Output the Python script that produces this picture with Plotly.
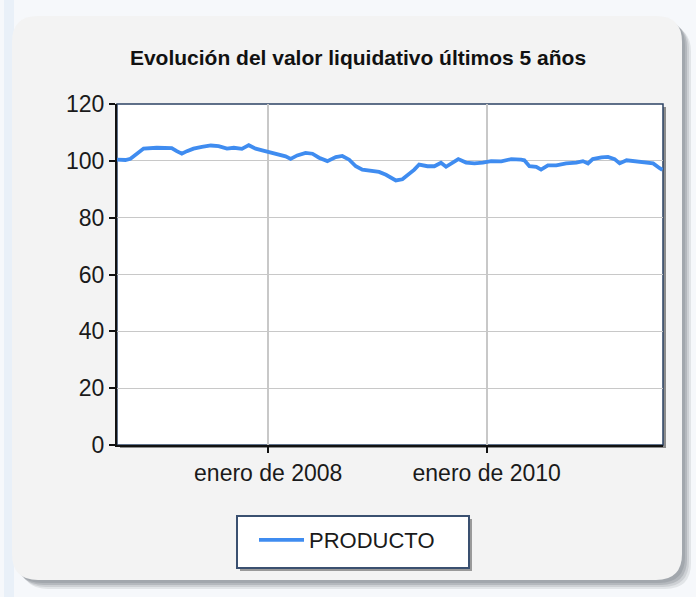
import plotly.graph_objects as go

# ---- data ----
dates = [
    "2006-08-13", "2006-09-10", "2006-09-27", "2006-10-19", "2006-11-10", "2006-12-24",
    "2007-02-12", "2007-03-01", "2007-03-18", "2007-04-04", "2007-04-26", "2007-05-24",
    "2007-06-23", "2007-07-19", "2007-08-16", "2007-09-08", "2007-10-05", "2007-10-28",
    "2007-11-20", "2007-12-12", "2008-01-03", "2008-02-06", "2008-02-28", "2008-03-16",
    "2008-04-07", "2008-05-05", "2008-05-28", "2008-06-19", "2008-07-17", "2008-08-14",
    "2008-09-05", "2008-09-28", "2008-10-20", "2008-11-11", "2008-12-09", "2009-01-06",
    "2009-01-29", "2009-02-14", "2009-03-03", "2009-03-25", "2009-04-11", "2009-05-04",
    "2009-05-20", "2009-06-17", "2009-07-10", "2009-08-01", "2009-08-18", "2009-09-04",
    "2009-09-28", "2009-10-24", "2009-11-21", "2009-12-19", "2010-01-16", "2010-02-19",
    "2010-03-24", "2010-04-26", "2010-05-07", "2010-05-24", "2010-06-16", "2010-07-02",
    "2010-07-25", "2010-08-22", "2010-09-24", "2010-10-28", "2010-11-19", "2010-12-06",
    "2010-12-22", "2011-01-20", "2011-02-11", "2011-03-05", "2011-03-22", "2011-04-14",
    "2011-05-17", "2011-06-20", "2011-07-12", "2011-08-03", "2011-08-12",
]
producto = [
    100.4, 100.3, 100.7, 102.7, 104.3, 104.6,
    104.5, 103.4, 102.5, 103.4, 104.3, 104.9,
    105.4, 105.2, 104.3, 104.6, 104.2, 105.5,
    104.3, 103.7, 103.1, 102.2, 101.6, 100.7,
    101.9, 102.8, 102.5, 101.1, 99.9, 101.3,
    101.7, 100.4, 98.1, 96.9, 96.4, 96.1,
    95.1, 94.3, 93.1, 93.5, 94.9, 96.9,
    98.7, 98.1, 98.1, 99.3, 97.9, 99.1,
    100.6, 99.4, 99.1, 99.4, 99.9, 99.8,
    100.6, 100.4, 100.2, 98.1, 97.9, 96.9,
    98.4, 98.4, 99.1, 99.4, 99.9, 99.1,
    100.6, 101.2, 101.4, 100.6, 99.1, 100.2,
    99.9, 99.6, 99.1, 97.4, 96.8,
]
x_range = ["2006-08-13", "2011-08-14"]
x_tickvals = ["2008-01-01", "2010-01-01"]
x_ticktext = ["enero de 2008", "enero de 2010"]
y_ticks = [0, 20, 40, 60, 80, 100, 120]
title_text = "Evolución del valor liquidativo últimos 5 años"
series_name = "PRODUCTO"

# ---- layout geometry (pixels) ----
W, H = 696, 597
L, R, T, B = 117, 663, 104, 445
pw, ph = R - L, B - T


def fx(px):
    return (px - L) / pw


def fy(py):
    return (B - py) / ph


def rrect(x0, y0, x1, y1, r):
    """rounded rectangle path in paper coords from pixel box"""
    def P(px, py):
        return f"{fx(px):.5f},{fy(py):.5f}"
    s = f"M {P(x0 + r, y0)} L {P(x1 - r, y0)} Q {P(x1, y0)} {P(x1, y0 + r)} "
    s += f"L {P(x1, y1 - r)} Q {P(x1, y1)} {P(x1 - r, y1)} "
    s += f"L {P(x0 + r, y1)} Q {P(x0, y1)} {P(x0, y1 - r)} "
    s += f"L {P(x0, y0 + r)} Q {P(x0, y0)} {P(x0 + r, y0)} Z"
    return s


shapes = []
# faint bluish outer strip on left
shapes.append(dict(type="rect", xref="paper", yref="paper", layer="below",
                   x0=fx(4), x1=fx(14), y0=fy(597), y1=fy(0),
                   fillcolor="#e9f0f8", line=dict(width=0)))
# panel shadow layers
for i, col in enumerate(["#e2e5e8", "#cdd0d4", "#b4b8bd", "#a2a7ad"]):
    off = 9 - i * 2
    shapes.append(dict(type="path", xref="paper", yref="paper", layer="below",
                       path=rrect(13 + off, 17 + off, 682 + off, 580 + off, 26),
                       fillcolor=col, line=dict(width=0)))
# panel
shapes.append(dict(type="path", xref="paper", yref="paper", layer="below",
                   path=rrect(12, 16, 682, 580, 26),
                   fillcolor="#f3f3f3", line=dict(width=0)))
# plot area shadow
shapes.append(dict(type="rect", xref="paper", yref="paper", layer="below",
                   x0=fx(L + 3), x1=fx(R + 3), y0=fy(B + 3), y1=fy(T + 3),
                   fillcolor="#8c8c8c", line=dict(width=0)))
# plot area
shapes.append(dict(type="rect", xref="paper", yref="paper", layer="below",
                   x0=0, x1=1, y0=0, y1=1,
                   fillcolor="#ffffff", line=dict(color="#2c4364", width=1.5)))
# legend shadow + box
shapes.append(dict(type="rect", xref="paper", yref="paper", layer="below",
                   x0=fx(240), x1=fx(472), y0=fy(571), y1=fy(519),
                   fillcolor="#9a9a9a", line=dict(width=0)))
shapes.append(dict(type="rect", xref="paper", yref="paper", layer="below",
                   x0=fx(237), x1=fx(469), y0=fy(568), y1=fy(516),
                   fillcolor="#ffffff", line=dict(color="#3a5070", width=2)))

font_family = "Liberation Sans, Arial, sans-serif"

fig = go.Figure()
fig.add_trace(go.Scatter(
    x=dates, y=producto, mode="lines", name=series_name,
    line=dict(color="#3f8cf0", width=3.8),
))

fig.update_layout(
    width=W, height=H,
    margin=dict(l=L, r=W - R, t=T, b=H - B, pad=0),
    paper_bgcolor="#f6f8fb",
    plot_bgcolor="rgba(0,0,0,0)",
    font=dict(family=font_family, color="#1a1a1a", size=23),
    title=dict(text=f"<b>{title_text}</b>", xref="paper", x=fx(358), xanchor="center",
               yref="container", y=1 - 58 / H, yanchor="middle",
               font=dict(family=font_family, size=21, color="#111111")),
    shapes=shapes,
    showlegend=True,
    legend=dict(x=fx(254), y=fy(519), xanchor="left", yanchor="top",
                orientation="h", itemwidth=45,
                bgcolor="rgba(0,0,0,0)", borderwidth=0,
                font=dict(family=font_family, size=22, color="#1a1a1a")),
    xaxis=dict(type="date", range=x_range, tickmode="array",
               tickvals=x_tickvals, ticktext=x_ticktext,
               showgrid=True, gridcolor="#c8c8c8", gridwidth=1.5,
               ticks="outside", ticklen=6, tickcolor="#111111", tickwidth=2,
               showline=True, linecolor="#111111", linewidth=2,
               zeroline=False, fixedrange=True),
    yaxis=dict(range=[0, 120], tickmode="array", tickvals=y_ticks,
               showgrid=True, gridcolor="#c8c8c8", gridwidth=1,
               ticks="outside", ticklen=6, tickcolor="#111111", tickwidth=2,
               showline=True, linecolor="#111111", linewidth=2,
               zeroline=False, fixedrange=True),
)

fig.write_html("out.html", config={"displayModeBar": False},
               post_script="document.body.style.margin='0';document.body.style.overflow='hidden';")
